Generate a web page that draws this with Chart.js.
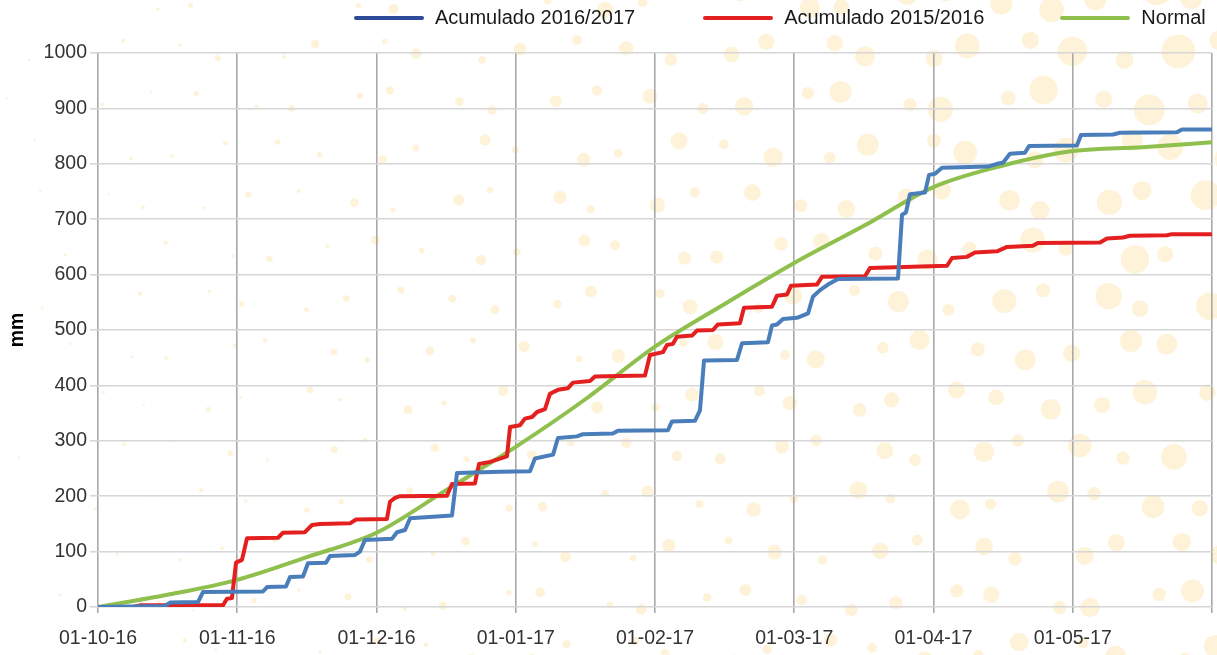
<!DOCTYPE html>
<html>
<head>
<meta charset="utf-8">
<script src="https://cdn.jsdelivr.net/npm/chart.js@4.4.1/dist/chart.umd.min.js"></script>
<style>
  html, body { margin:0; padding:0; background:#fff; }
  #wrap { position:relative; width:1217px; height:655px; }
  #legend { position:absolute; top:6px; left:354px; display:flex; align-items:center;
            font-family:"Liberation Sans", Arial, sans-serif; font-size:20px; color:#1a1a1a; }
  .item { display:flex; align-items:center; margin-right:68px; }
  .item:nth-child(2) { margin-right:76px; }
  .item:last-child { margin-right:0; }
  .sw { width:70px; height:4px; border-radius:2px; margin-right:11px; }
</style>
</head>
<body>
<div id="wrap">
  <canvas id="c" width="1217" height="655"></canvas>
  <div id="legend"></div>
</div>
<script>
// Month tick labels (x axis: months since 1 Oct 2016, equal spacing per month)
const monthLabels = ['01-10-16','01-11-16','01-12-16','01-01-17','01-02-17','01-03-17','01-04-17','01-05-17'];

// Acumulado 2016/2017 (blue): x = months since 01-10-16, y = mm
const acum1617X = [0.000,0.481,0.517,0.718,0.754,1.185,1.214,1.350,1.379,1.472,1.508,1.637,1.666,1.846,1.881,1.917,2.111,2.147,2.205,2.241,2.542,2.578,2.887,3.102,3.138,3.268,3.303,3.440,3.483,3.698,3.734,4.093,4.122,4.287,4.323,4.352,4.589,4.625,4.811,4.840,4.876,4.919,5.020,5.099,5.134,5.185,5.242,5.314,5.745,5.774,5.802,5.831,5.939,5.968,6.011,6.061,6.391,6.456,6.499,6.549,6.657,6.686,7.030,7.059,7.289,7.339,7.748,7.784,8.000];
const acum1617Y = [0,2,8,9,27,28,36,37,54,55,79,80,92,94,100,121,123,135,139,160,165,242,244,245,268,275,305,308,312,313,318,319,335,336,355,445,446,476,478,508,510,520,522,530,560,572,582,592,593,708,712,745,748,780,782,793,795,800,802,818,820,832,833,852,853,856,857,862,862];

// Acumulado 2015/2016 (red)
const acum1516X = [0.000,0.251,0.302,0.898,0.926,0.962,0.991,1.034,1.070,1.293,1.328,1.486,1.537,1.594,1.810,1.853,2.075,2.097,2.133,2.169,2.506,2.542,2.707,2.736,2.815,2.887,2.937,2.959,3.030,3.066,3.117,3.153,3.210,3.246,3.303,3.375,3.411,3.533,3.569,3.928,3.964,4.057,4.086,4.129,4.158,4.266,4.301,4.416,4.452,4.610,4.639,4.840,4.876,4.948,4.977,5.163,5.199,5.508,5.544,6.097,6.133,6.240,6.298,6.456,6.528,6.714,6.750,7.196,7.246,7.361,7.411,7.677,7.713,8.000];
const acum1516Y = [0,0,3,3,15,16,80,85,124,125,134,135,148,150,151,158,159,190,197,200,201,222,223,258,262,268,272,325,328,340,343,352,357,385,392,395,405,408,416,418,455,460,473,475,488,490,499,500,510,512,540,542,562,564,580,582,596,597,612,616,630,632,640,642,650,652,657,658,665,667,670,671,673,673];

// Normal (green)
const normalX = [0,0.5,1,1.5,2,2.5,3,3.5,4,4.5,5,5.5,6,6.5,7,7.5,8];
const normalY = [0,22,49,90,134,211,289,375,470,547,621,688,758,797,823,830,839];

const seriesNames = ['Acumulado 2016/2017','Acumulado 2015/2016','Normal'];
const lineColors = ['#4a7ebb','#e3201f','#8fbf4d'];
const legendColors = ['#2f4a98','#e3201f','#8fbf4d'];

const pts = (xs, ys) => xs.map((x, i) => ({ x: x, y: ys[i] }));

const bgDots = {
  id: 'bgDots',
  beforeDraw(chart) {
    const ctx = chart.ctx, W = chart.width, H = chart.height;
    ctx.save();
    ctx.fillStyle = '#ffffff';
    ctx.fillRect(0, 0, W, H);
    ctx.fillStyle = 'rgba(252,224,165,0.42)';
    const step = 50;
    for (let r = 0; r * step < H + step; r++) {
      for (let c = 0; c * step < W + step; c++) {
        const x = c * step + (r % 2 ? step / 2 : 0) + 10 * Math.sin(r * 12.9898 + c * 78.233);
        const y = r * step + 10 * Math.sin(r * 39.3468 + c * 11.135);
        const fx = Math.max(0, x / W);
        let rad = (1 + 13 * Math.pow(fx, 1.3) * (1 - 0.4 * y / H)) * (1 + 0.3 * Math.sin(r * 7.1 + c * 3.3));
        if (rad < 1.2) continue;
        ctx.beginPath();
        ctx.arc(x, y, rad, 0, Math.PI * 2);
        ctx.fill();
      }
    }
    ctx.restore();
  }
};

const FONT = '"Liberation Sans", Arial, sans-serif';

new Chart(document.getElementById('c'), {
  type: 'line',
  data: {
    datasets: [
      { label: seriesNames[0], data: pts(acum1617X, acum1617Y), borderColor: lineColors[0], borderWidth: 4, pointRadius: 0, tension: 0, borderJoinStyle: 'round' },
      { label: seriesNames[1], data: pts(acum1516X, acum1516Y), borderColor: lineColors[1], borderWidth: 4, pointRadius: 0, tension: 0, borderJoinStyle: 'round' },
      { label: seriesNames[2], data: pts(normalX, normalY), borderColor: lineColors[2], borderWidth: 4, pointRadius: 0, cubicInterpolationMode: 'monotone' }
    ]
  },
  options: {
    responsive: false,
    animation: false,
    layout: { padding: { top: 53, right: 0, left: 6, bottom: 0 } },
    plugins: { legend: { display: false }, tooltip: { enabled: false } },
    scales: {
      x: {
        type: 'linear', min: 0, max: 8,
        afterFit(s) { s.height = 48; s.paddingRight = 5; },
        ticks: { stepSize: 1, autoSkip: false, maxRotation: 0, padding: 14,
                 font: { family: FONT, size: 19.5 }, color: '#333',
                 callback: (v) => (Number.isInteger(v) && monthLabels[v]) ? monthLabels[v] : '' },
        grid: { color: '#a8a8a8', lineWidth: 1.6, tickLength: 6, drawTicks: true },
        border: { display: false }
      },
      y: {
        min: 0, max: 1000,
        afterFit(s) { s.width = 92; },
        ticks: { stepSize: 100, padding: 3, font: { family: FONT, size: 19.5 }, color: '#333',
                 callback: (v) => String(v) },
        grid: { color: '#d6d6d6', lineWidth: 1.6, tickLength: 8 },
        border: { display: false },
        title: { display: true, text: 'mm', font: { family: FONT, size: 19.5, weight: 'bold' }, color: '#000', padding: { top: 0, bottom: 0 } }
      }
    }
  },
  plugins: [bgDots]
});

// HTML legend
const lg = document.getElementById('legend');
seriesNames.forEach((n, i) => {
  const d = document.createElement('div'); d.className = 'item';
  const sw = document.createElement('div'); sw.className = 'sw'; sw.style.background = legendColors[i];
  const t = document.createElement('span'); t.textContent = n;
  d.appendChild(sw); d.appendChild(t); lg.appendChild(d);
});
</script>
</body>
</html>
